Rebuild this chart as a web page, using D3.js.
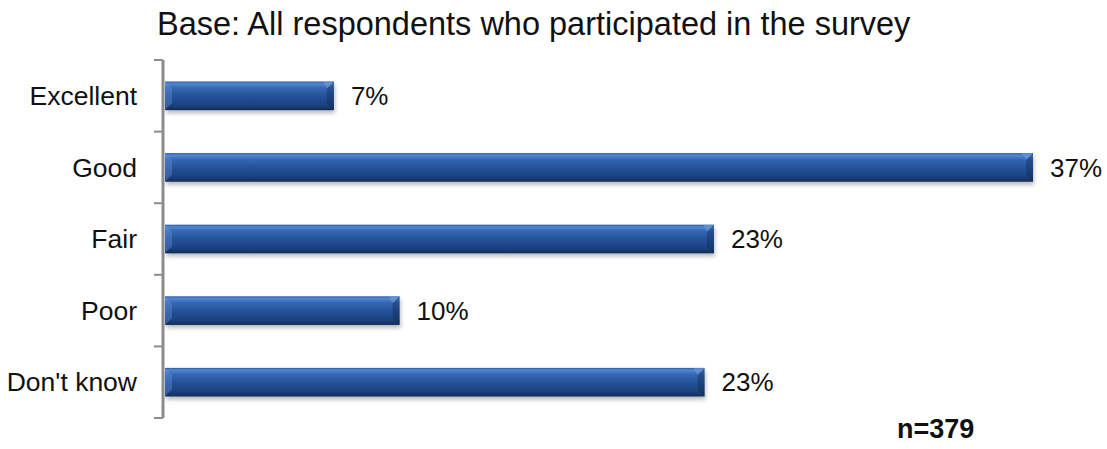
<!DOCTYPE html>
<html>
<head>
<meta charset="utf-8">
<script src="https://cdn.jsdelivr.net/npm/d3@7"></script>
<style>
  html, body { margin: 0; padding: 0; background: #fff; }
  svg { display: block; font-family: "Liberation Sans", Arial, Helvetica, sans-serif; }
</style>
</head>
<body>
<svg id="chart" width="1107" height="449"></svg>
<script>
// Survey rating distribution (percent of respondents)
const categories = ["Excellent", "Good", "Fair", "Poor", "Don't know"];
const values = [7.2, 37.0, 23.4, 10.0, 23.0];
const titleText = "Base: All respondents who participated in the survey";
const baseNote = "n=379";

const svg = d3.select("#chart");

const axisX = 163;
const x = d3.scaleLinear().domain([0, 37]).range([165, 1033]);
const y = d3.scaleBand().domain(categories).range([60, 418])
  .paddingInner(0.6).paddingOuter(0.3);

const defs = svg.append("defs");
const grad = defs.append("linearGradient").attr("id", "barGrad")
  .attr("x1", 0).attr("y1", 0).attr("x2", 0).attr("y2", 1);
[
  [0, "#2b5ea6"], [0.08, "#5487cf"], [0.22, "#3568b3"], [0.5, "#25539a"],
  [0.8, "#1c4383"], [0.93, "#15366a"], [1, "#0f264c"]
].forEach(([o, c]) => grad.append("stop").attr("offset", o).attr("stop-color", c));

const shadow = defs.append("filter").attr("id", "shadow")
  .attr("x", "-5%").attr("y", "-30%").attr("width", "110%").attr("height", "180%");
shadow.append("feGaussianBlur").attr("in", "SourceAlpha").attr("stdDeviation", 2.2);
shadow.append("feOffset").attr("dx", 1).attr("dy", 3).attr("result", "b");
shadow.append("feComponentTransfer").append("feFuncA").attr("type", "linear").attr("slope", 0.28);
const merge = shadow.append("feMerge");
merge.append("feMergeNode");
merge.append("feMergeNode").attr("in", "SourceGraphic");

// Title
svg.append("text")
  .attr("x", 157).attr("y", 35)
  .attr("font-size", 32.5).attr("fill", "#111")
  .text(titleText);

// Bars
const bars = svg.append("g").selectAll("g.bar")
  .data(categories.map((c, i) => ({ c, v: values[i] })))
  .join("g").attr("class", "bar");

bars.append("rect")
  .attr("x", x(0)).attr("y", d => y(d.c))
  .attr("width", d => x(d.v) - x(0)).attr("height", y.bandwidth())
  .attr("fill", "url(#barGrad)")
  .attr("filter", "url(#shadow)");

// Bevelled ends
const bev = 7;
bars.append("path")
  .attr("d", d => {
    const x0 = x(0), y0 = y(d.c), h = y.bandwidth();
    return `M${x0},${y0}L${x0 + bev},${y0 + bev}L${x0 + bev},${y0 + h - bev}L${x0},${y0 + h}Z`;
  })
  .attr("fill", "#6a9bdc").attr("opacity", 0.35);
bars.append("path")
  .attr("d", d => {
    const x1 = x(d.v), y0 = y(d.c), h = y.bandwidth();
    return `M${x1},${y0}L${x1 - bev},${y0 + bev}L${x1 - bev},${y0 + h - bev}L${x1},${y0 + h}Z`;
  })
  .attr("fill", "#0e2447").attr("opacity", 0.35);
bars.append("path")
  .attr("d", d => {
    const x1 = x(d.v), y0 = y(d.c);
    return `M${x1 - bev - 4},${y0}L${x1},${y0}L${x1 - bev},${y0 + bev}Z`;
  })
  .attr("fill", "#7aa7e2").attr("opacity", 0.45);

// Value labels
bars.append("text")
  .attr("x", d => x(d.v) + 17)
  .attr("y", d => y(d.c) + y.bandwidth() / 2)
  .attr("dy", "0.35em")
  .attr("font-size", 26).attr("fill", "#111")
  .text(d => d3.format(".0f")(d.v) + "%");

// Category axis with ticks at band boundaries
const axisG = svg.append("g");
const gap = (y.step() - y.bandwidth()) / 2;
const bounds = categories.map((c, i) => i === 0 ? y.range()[0] : y(c) - gap);
bounds.push(y.range()[1]);
axisG.append("line")
  .attr("x1", axisX).attr("x2", axisX)
  .attr("y1", y.range()[0]).attr("y2", y.range()[1])
  .attr("stroke", "#8c8c8c").attr("stroke-width", 3);
axisG.selectAll("line.tick").data(bounds).join("line")
  .attr("class", "tick")
  .attr("x1", 154).attr("x2", axisX)
  .attr("y1", d => d).attr("y2", d => d)
  .attr("stroke", "#8c8c8c").attr("stroke-width", 2);

axisG.selectAll("text.cat").data(categories).join("text")
  .attr("class", "cat")
  .attr("x", 137).attr("y", d => y(d) + y.bandwidth() / 2)
  .attr("dy", "0.35em").attr("text-anchor", "end")
  .attr("font-size", 26.5).attr("fill", "#111")
  .text(d => d);

// Sample size note
svg.append("text")
  .attr("x", 897).attr("y", 438)
  .attr("font-size", 27).attr("font-weight", "bold").attr("fill", "#111")
  .text(baseNote);
</script>
</body>
</html>
